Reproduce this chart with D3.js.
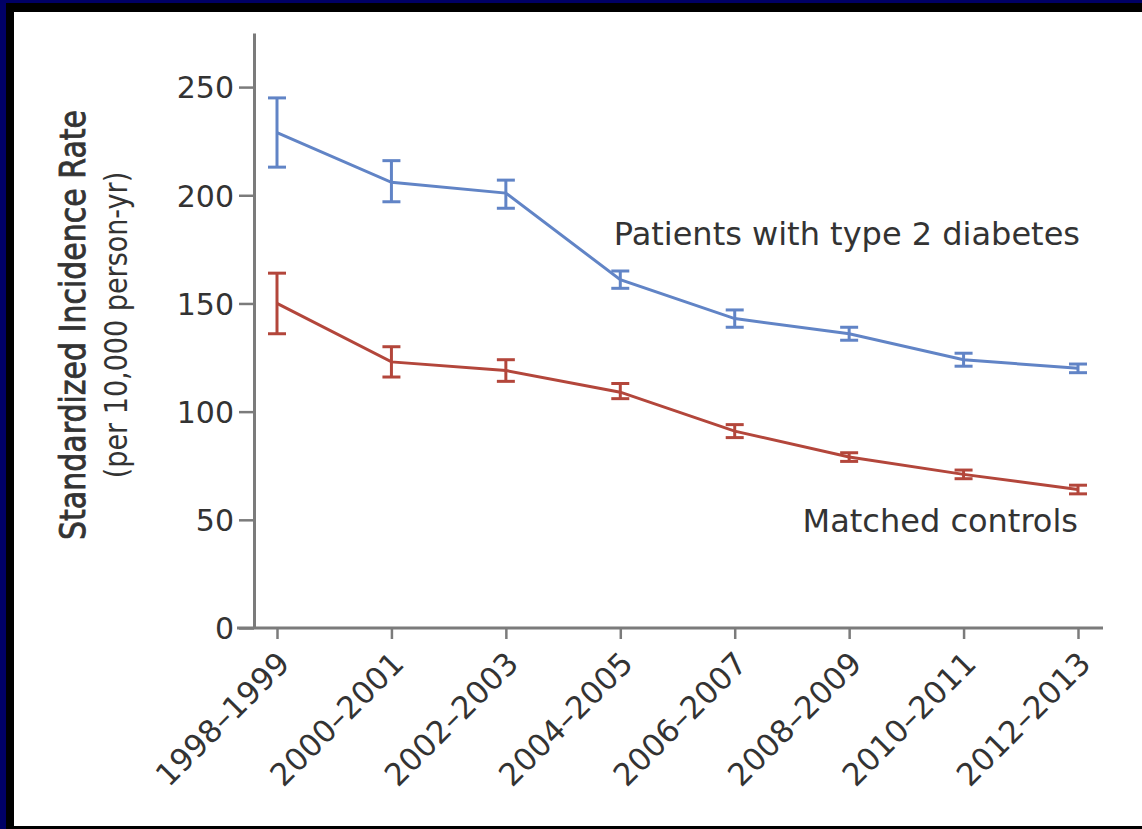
<!DOCTYPE html>
<html>
<head>
<meta charset="utf-8">
<script src="https://cdn.jsdelivr.net/npm/d3@7"></script>
<style>
  body { margin: 0; background: #000066; }
  svg { display: block; }
  text { font-family: "DejaVu Sans", sans-serif; fill: #333; }
</style>
</head>
<body>
<script>
//Data///////////////////////////////////////////////////////////////////////////////////////////

const periods = ["1998–1999", "2000–2001", "2002–2003", "2004–2005",
                 "2006–2007", "2008–2009", "2010–2011", "2012–2013"];

// patients with type 2 diabetes: rate, lower, upper
const diabetesRate  = [229, 206, 201, 161, 143, 136, 124, 120];
const diabetesLow   = [213, 197, 194, 157, 139, 133, 121, 118];
const diabetesHigh  = [245, 216, 207, 165, 147, 139, 127, 122];

// matched controls
const controlRate   = [150, 123, 119, 109, 91, 79, 71, 64];
const controlLow    = [136, 116, 114, 106, 88, 77, 69, 62];
const controlHigh   = [164, 130, 124, 113, 94, 81, 73, 66];

const yTicks = [0, 50, 100, 150, 200, 250];

const series = [
  { name: "Patients with type 2 diabetes", rate: diabetesRate, low: diabetesLow, high: diabetesHigh, color: "#6184c6" },
  { name: "Matched controls", rate: controlRate, low: controlLow, high: controlHigh, color: "#b3463b" }
];

// Setup /////////////////////////////////////////////////////////////////////////////////////////

var W = 1142, H = 829;

var svg = d3.select("body").append("svg")
    .attr("width", W)
    .attr("height", H);

// frame: navy outside, black border, white panel
svg.append("rect").attr("width", W).attr("height", H).attr("fill", "#000066");
svg.append("rect").attr("x", 6).attr("y", 3).attr("width", W - 6).attr("height", H - 3).attr("fill", "#000");
svg.append("rect").attr("x", 14).attr("y", 12).attr("width", W - 14).attr("height", 814).attr("fill", "#fff");

var x = d3.scalePoint()
    .domain(periods)
    .range([277, 1078]);

var y = d3.scaleLinear()
    .domain([0, 275])
    .range([628, 33]);

var axisX0 = 254;   // where the y axis sits
var axisColor = "#7b7b7b";

// y axis
var yAxis = svg.append("g")
    .attr("transform", "translate(" + axisX0 + ",0)")
    .call(d3.axisLeft(y).tickValues(yTicks).tickSize(15).tickSizeOuter(0).tickPadding(5));
yAxis.select(".domain").attr("stroke", axisColor).attr("stroke-width", 3);
yAxis.selectAll(".tick line").attr("stroke", axisColor).attr("stroke-width", 2.5);
yAxis.selectAll(".tick text")
    .style("font-size", "30px")
    .attr("fill", "#333")
    .attr("dy", "0.36em");

// x axis
var xAxis = svg.append("g")
    .attr("transform", "translate(0," + y(0) + ")")
    .call(d3.axisBottom(x).tickSize(11).tickSizeOuter(0).tickFormat(""));
xAxis.select(".domain")
    .attr("d", "M" + (axisX0 - 17) + ",0H" + (x.range()[1] + 25))
    .attr("stroke", axisColor).attr("stroke-width", 3);
xAxis.selectAll(".tick line").attr("stroke", axisColor).attr("stroke-width", 2.5);

svg.append("g").selectAll("text")
    .data(periods)
    .enter().append("text")
    .attr("transform", function(d) { return "translate(" + (x(d) - 1) + "," + (y(0) + 22) + ") rotate(-45)"; })
    .attr("text-anchor", "end")
    .attr("dy", "0.7em")
    .style("font-size", "31px")
    .attr("fill", "#222")
    .text(function(d) { return d; });

// y axis title, two lines (glyphs a little stretched across, like the source)
var title = svg.append("text")
    .attr("transform", "translate(85,325) rotate(-90) scale(1,1.2)")
    .attr("text-anchor", "middle");
title.append("tspan")
    .attr("x", 0).attr("y", 0)
    .style("font-size", "30px")
    .style("stroke", "#333")
    .style("stroke-width", "0.7px")
    .text("Standardized Incidence Rate");
title.append("tspan")
    .attr("x", 0).attr("y", 35)
    .style("font-size", "27px")
    .text("(per 10,000 person-yr)");

// lines + error bars
var line = d3.line()
    .x(function(d, i) { return x(periods[i]); })
    .y(function(d) { return y(d); });

var cap = 9;

series.forEach(function(s) {
  var g = svg.append("g");

  g.append("path")
      .datum(s.rate)
      .attr("d", line)
      .attr("fill", "none")
      .attr("stroke", s.color)
      .attr("stroke-width", 3);

  var bars = g.selectAll(".err")
      .data(periods)
      .enter().append("g")
      .attr("class", "err")
      .attr("stroke", s.color)
      .attr("stroke-width", 3);

  bars.append("line")
      .attr("x1", function(d) { return x(d); })
      .attr("x2", function(d) { return x(d); })
      .attr("y1", function(d, i) { return y(s.low[i]); })
      .attr("y2", function(d, i) { return y(s.high[i]); });
  bars.append("line")
      .attr("x1", function(d) { return x(d) - cap; })
      .attr("x2", function(d) { return x(d) + cap; })
      .attr("y1", function(d, i) { return y(s.high[i]); })
      .attr("y2", function(d, i) { return y(s.high[i]); });
  bars.append("line")
      .attr("x1", function(d) { return x(d) - cap; })
      .attr("x2", function(d) { return x(d) + cap; })
      .attr("y1", function(d, i) { return y(s.low[i]); })
      .attr("y2", function(d, i) { return y(s.low[i]); });
});

// series labels
svg.append("text")
    .attr("x", 1080).attr("y", 245)
    .attr("text-anchor", "end")
    .style("font-size", "32px")
    .text(series[0].name);

svg.append("text")
    .attr("x", 1078).attr("y", 532)
    .attr("text-anchor", "end")
    .style("font-size", "32px")
    .text(series[1].name);
</script>
</body>
</html>
